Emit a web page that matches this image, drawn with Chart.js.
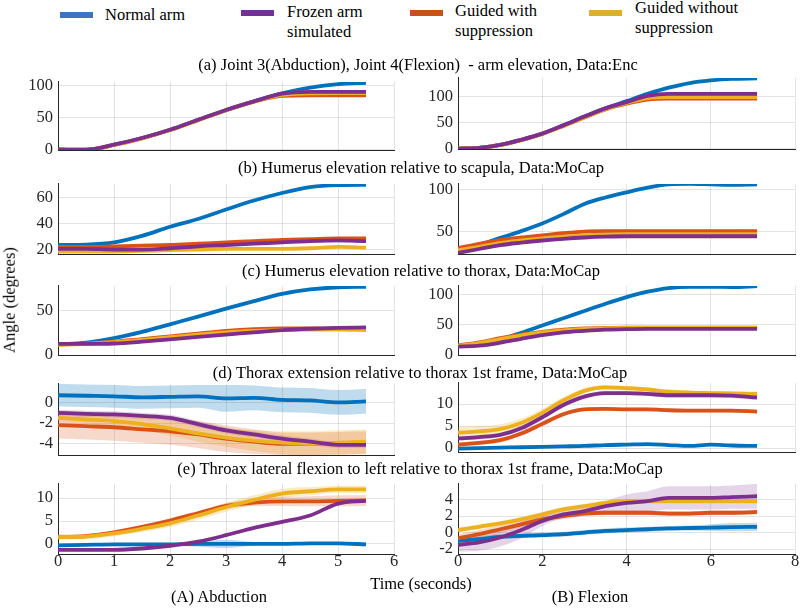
<!DOCTYPE html>
<html><head><meta charset="utf-8">
<script src="https://cdn.jsdelivr.net/npm/chart.js@4"></script>
<style>
body{margin:0;width:800px;height:608px;background:#fff;position:relative;overflow:hidden;font-family:'Liberation Serif','Times New Roman',serif;color:#000}
.c{position:absolute;white-space:nowrap;font-size:16.5px;transform:translate(-50%,-50%);line-height:1}
.l{position:absolute;white-space:nowrap;font-size:16.5px;line-height:1;transform:translateY(-50%)}
.sw{position:absolute;width:33px;height:6px}
.box{position:absolute}
</style></head><body>
<script>
// ---------- data ----------
const timeAbd  = [0,0.5,1,1.5,2,2.5,3,3.5,4,4.5,5,5.5];
const timeFlex = [0,0.5,1,1.5,2,2.5,3,3.5,4,4.5,5,5.5,6,6.5,7.1];
const xTicksAbd = [0,1,2,3,4,5,6];
const xTicksFlex = [0,2,4,6,8];
const seriesNames = ['Normal arm','Frozen arm simulated','Guided with suppression','Guided without suppression'];

// (a) Joint 3 / Joint 4 arm elevation
const aAbdNormal = [0,-0.3,7.5,18,31,46.5,62,75.5,88,97,102.5,104.5];
const aAbdFrozen = [0,-0.3,7.5,18,31,46.5,62,75.5,87.5,90.5,90.5,90.5];
const aAbdGuidedS = [-1.2,-0.8,7,17.5,30.5,46,61.5,75,84,85,85,85];
const aAbdGuidedN = [-1.2,-0.8,7,17.5,30.5,46,61.5,75,85.5,88,88.5,88.5];
const aAbdNormalSd = [0.5,0.5,0.5,0.5,0.6,0.7,0.8,1,1,1,1,1];
const aAbdFrozenSd = [0.5,0.5,0.5,0.5,0.5,0.6,0.7,0.8,1,1,1,1];
const aAbdGuidedSSd = [0.5,0.5,0.6,0.7,0.8,0.9,1,1.2,1.5,2,2,2];
const aAbdGuidedNSd = [0.5,0.5,0.6,0.7,0.8,1,1.2,1.5,3,4.5,5,5];

const aFlxNormal = [0,1.5,7,17,29,45,62,78,92,106,118,127,132,135,136];
const aFlxFrozen = [0,1.5,7,17,29,45,62,78,90,102,106,106,106,106,106];
const aFlxGuidedS = [0,1.5,7,16.5,28.5,44,60.5,76,87,95,97,97,97,97,97];
const aFlxGuidedN = [0,1.5,7,16.5,28.5,44,61,76.5,88.5,98,100,100,100,100,100];
const aFlxNormalSd = [0.5,0.5,0.5,0.6,0.7,0.8,0.9,1,1,1,1,1,1,1,1];
const aFlxFrozenSd = [0.5,0.5,0.5,0.6,0.7,0.8,1,1.5,2.5,3.5,4,4,4,4,4];
const aFlxGuidedSSd = [0.5,0.5,0.5,0.6,0.7,0.8,1,1.2,1.5,2,2,2,2,2,2];
const aFlxGuidedNSd = [0.5,0.5,0.5,0.6,0.7,0.8,1,1.2,1.5,2,2,2,2,2,2];

// (b) Humerus elevation relative to scapula
const bAbdNormal = [23.5,23.8,25.5,30.5,37.5,43.5,50.8,57.7,63.5,68,69.5,69.7];
const bAbdFrozen = [20.5,20.5,20,20,21,22.5,23.5,24.5,25.5,26.5,27,26.5];
const bAbdGuidedS = [22,22,22.5,23,23.5,24.5,25.5,26.5,27.5,28,28.5,28.5];
const bAbdGuidedN = [18.5,18.5,18.5,19,19.5,20,20.5,20.5,20.5,21,22,21.5];
const bAbdNormalSd = [0.7,0.7,0.7,0.8,0.8,0.9,1,1.1,1.2,1,0.8,0.8];
const bAbdFrozenSd = [0.7,0.7,0.7,0.7,0.8,0.8,0.9,1,1.1,1.3,1.5,1.5];
const bAbdGuidedSSd = [0.7,0.7,0.7,0.7,0.7,0.8,0.8,0.8,0.9,0.9,1,1];
const bAbdGuidedNSd = [0.7,0.7,0.7,0.7,0.7,0.8,0.8,0.8,0.9,0.9,1,1];

const bFlxNormal = [27.5,35,43,51,60,71,83,90.5,96.5,102,106,106.5,106,105.5,106];
const bFlxFrozen = [25.5,30,34.5,37.5,40,42,43.5,44.5,45,45,45,45,45,45,45];
const bFlxGuidedS = [31,36,40.5,43.5,46,48.5,50.5,51,51,51,51,51,51,51,51];
const bFlxGuidedN = [28.5,32.5,37,40,42.5,44.5,46,47,47.5,47.5,47.5,47.5,47.5,47.5,47.5];
const bFlxNormalSd = [0.8,0.8,0.8,0.9,1,1,1,1,1,1,1,1,1,1,1];
const bFlxFrozenSd = [0.8,0.8,0.8,0.8,0.8,0.8,0.8,0.8,0.8,0.8,0.8,0.8,0.8,0.8,0.8];
const bFlxGuidedSSd = [1,1.2,1.4,1.6,1.8,2,2,2,2,2,2,2,2,2,2.2];
const bFlxGuidedNSd = [0.8,0.8,0.8,0.8,0.8,0.8,0.8,0.8,0.8,0.8,0.8,0.8,0.8,0.8,0.8];

// (c) Humerus elevation relative to thorax
const cAbdNormal = [12,14,19,26,34.5,43,52,60.5,68.5,73.5,76,76.5];
const cAbdFrozen = [12.5,12.5,13,15,17.5,20.5,23,25.5,28,29.5,30.5,31];
const cAbdGuidedS = [12,13,15,18,21,24,27,29,30,30,29.5,29];
const cAbdGuidedN = [11.5,12.5,14.5,17,20,23,25.5,27,28,28.5,28.5,28];
const cAbdNormalSd = [0.8,0.8,0.8,0.8,0.9,1,1,1,1,1,1,1];
const cAbdFrozenSd = [0.8,0.8,0.8,0.8,0.8,0.9,0.9,1,1,1,1,1];
const cAbdGuidedSSd = [0.8,0.8,0.8,0.8,0.8,0.9,0.9,1,1,1,1,1];
const cAbdGuidedNSd = [0.8,0.8,0.8,0.8,0.8,0.9,0.9,1,1,1,1,1];

const cFlxNormal = [15,19,26,37,49,61,73,85,96,105,111,113,113,112.5,114];
const cFlxFrozen = [14,15.5,20.5,27,33,37.5,40,42,43,43.5,43.5,43.5,43.5,43.5,43.5];
const cFlxGuidedS = [16,21,28,34,38.5,42,44,45,45.5,45.5,45.5,45.5,45.5,45.5,45.5];
const cFlxGuidedN = [15.5,20,26.5,32.5,37.5,41,43.5,44.5,45,45,45,45,45,45,45];
const cFlxNormalSd = [1,1,1,1.2,1.2,1.2,1.2,1.2,1.2,1.2,1.2,1.2,1.2,1.2,1.2];
const cFlxFrozenSd = [1,1,1,1.2,1.2,1.2,1.2,1.2,1.2,1.2,1.2,1.2,1.2,1.2,1.2];
const cFlxGuidedSSd = [1,1,1,1.2,1.2,1.2,1.2,1.2,1.2,1.2,1.2,1.2,1.2,1.2,1.2];
const cFlxGuidedNSd = [1,1,1,1.2,1.2,1.2,1.2,1.2,1.2,1.2,1.2,1.2,1.2,1.2,1.2];

// (d) Thorax extension relative to thorax 1st frame
const dAbdNormal = [0.7,0.65,0.6,0.5,0.55,0.6,0.4,0.45,0.25,0.2,0.0,0.1];
const dAbdFrozen = [-1.0,-1.1,-1.15,-1.3,-1.5,-2.1,-2.7,-3.1,-3.5,-3.8,-4.1,-4.1];
const dAbdGuidedS = [-2.2,-2.3,-2.4,-2.6,-2.8,-3.1,-3.5,-3.8,-4.0,-4.0,-3.95,-3.9];
const dAbdGuidedN = [-1.5,-1.65,-1.8,-2.1,-2.5,-3.0,-3.4,-3.7,-3.9,-4.0,-3.9,-3.8];
const dAbdNormalSd = [1.1,1.1,1.1,1.1,1.1,1.1,1.3,1.2,1.2,1.2,1.2,1.2];
const dAbdFrozenSd = [0.3,0.3,0.3,0.3,0.3,0.3,0.3,0.3,0.3,0.3,0.3,0.3];
const dAbdGuidedSSd = [1.3,1.3,1.3,1.3,1.3,1.3,1.3,1.2,1.1,1.1,1.1,1.1];
const dAbdGuidedNSd = [0.4,0.4,0.5,0.6,0.7,0.8,0.9,1.0,1.1,1.2,1.2,1.2];

const dFlxNormal = [-0.1,0.0,0.1,0.2,0.3,0.4,0.5,0.7,0.8,0.9,0.7,0.5,0.8,0.6,0.5];
const dFlxFrozen = [2.2,2.5,3.0,4.5,7.0,9.8,11.7,12.5,12.5,12.3,12.0,12.0,12.0,11.9,11.5];
const dFlxGuidedS = [0.8,1.2,1.8,3.3,5.5,7.7,8.8,8.9,8.8,8.8,8.6,8.5,8.5,8.5,8.3];
const dFlxGuidedN = [3.5,3.8,4.3,5.7,8.0,10.8,13.0,13.8,13.6,13.3,12.8,12.6,12.5,12.4,12.3];
const dFlxNormalSd = [0.2,0.2,0.2,0.2,0.2,0.2,0.2,0.2,0.2,0.2,0.2,0.2,0.2,0.2,0.2];
const dFlxFrozenSd = [0.5,0.5,0.5,0.5,0.5,0.5,0.5,0.5,0.5,0.5,0.5,0.5,0.5,0.5,0.6];
const dFlxGuidedSSd = [0.5,0.5,0.5,0.6,0.6,0.5,0.4,0.4,0.4,0.4,0.4,0.4,0.4,0.4,0.4];
const dFlxGuidedNSd = [1.3,1.2,1.1,1.0,0.9,0.8,0.6,0.5,0.5,0.5,0.5,0.5,0.5,0.5,0.6];

// (e) Thorax lateral flexion to left relative to thorax 1st frame
const eAbdNormal = [-0.3,-0.2,-0.1,-0.1,-0.1,0,0,0,0,0.1,0.1,-0.1];
const eAbdFrozen = [-1.3,-1.3,-1.3,-1.0,-0.4,0.5,1.9,3.5,4.8,6.2,8.8,9.4];
const eAbdGuidedS = [1.5,1.7,2.5,3.7,5.1,6.7,8.3,9.0,9.3,9.3,9.4,9.5];
const eAbdGuidedN = [1.5,1.6,2.3,3.3,4.5,6.2,8.0,9.6,11.0,11.5,11.9,11.9];
const eAbdNormalSd = [0.2,0.2,0.2,0.2,0.3,0.6,0.9,0.4,0.2,0.2,0.2,0.2];
const eAbdFrozenSd = [0.3,0.3,0.3,0.3,0.3,0.3,0.3,0.3,0.3,0.3,0.3,0.3];
const eAbdGuidedSSd = [0.4,0.4,0.4,0.4,0.5,0.5,0.6,0.8,1.0,1.1,1.2,1.2];
const eAbdGuidedNSd = [0.6,0.6,0.6,0.7,0.8,0.9,1.0,1.0,1.0,0.9,0.8,0.8];

const eFlxNormal = [-1.0,-0.8,-0.5,-0.4,-0.3,-0.2,0.0,0.2,0.3,0.4,0.5,0.55,0.6,0.65,0.7];
const eFlxFrozen = [-1.5,-1.2,-0.6,0.3,1.4,2.2,2.6,3.2,3.6,3.8,4.2,4.2,4.2,4.3,4.4];
const eFlxGuidedS = [-0.7,-0.2,0.4,1.0,1.6,2.0,2.3,2.4,2.4,2.4,2.3,2.3,2.4,2.4,2.5];
const eFlxGuidedN = [0.3,0.7,1.1,1.6,2.2,2.8,3.2,3.6,3.8,3.8,3.8,3.8,3.8,3.8,3.8];
const eFlxNormalSd = [0.3,0.3,0.3,0.3,0.3,0.3,0.3,0.3,0.3,0.3,0.3,0.3,0.4,0.5,0.5];
const eFlxFrozenSd = [0.8,1.0,1.1,1.0,0.6,0.4,0.4,0.6,1.0,1.2,1.4,1.4,1.4,1.4,1.5];
const eFlxGuidedSSd = [0.5,0.5,0.5,0.4,0.4,0.4,0.3,0.3,0.3,0.3,0.3,0.3,0.3,0.3,0.3];
const eFlxGuidedNSd = [0.3,0.3,0.3,0.3,0.3,0.3,0.3,0.3,0.3,0.3,0.3,0.3,0.3,0.3,0.3];

const yTicksA_L = [0,50,100], yTicksA_R = [0,50,100];
const yTicksB_L = [20,40,60], yTicksB_R = [50,100];
const yTicksC_L = [0,50], yTicksC_R = [0,50,100];
const yTicksD_L = [-4,-2,0], yTicksD_R = [0,5,10];
const yTicksE_L = [0,5,10], yTicksE_R = [-2,0,2,4];

// ---------- styling ----------
const COLORS = {normal:[0,114,189], frozen:[126,47,142], guidedS:[217,83,25], guidedN:[237,177,32]};
const LEG = ['#3f72c0','#71309a','#c4531b','#e0ae2e'];
const FONT = "'Liberation Serif', 'Times New Roman', serif";
Chart.defaults.font.family = FONT;
const Y_W = 55, PAD_T = 14, PAD_R = 5;

function rgba(c,a){return 'rgba('+c[0]+','+c[1]+','+c[2]+','+a+')';}

function addText(txt, x, y, cls, extra){
  const d=document.createElement('div'); d.className=cls; d.textContent=txt;
  d.style.left=x+'px'; d.style.top=y+'px'; if(extra) Object.assign(d.style,extra);
  document.body.appendChild(d); return d;
}

function makePlot(rect, times, S, yMin, yMax, yTicks, xMax, xTicks, showX){
  const xh = showX ? 26 : 14;
  const W = rect.r - rect.l + Y_W + PAD_R, H = rect.b - rect.t + PAD_T + xh;
  const box=document.createElement('div'); box.className='box';
  box.style.left=(rect.l-Y_W)+'px'; box.style.top=(rect.t-PAD_T)+'px';
  box.style.width=W+'px'; box.style.height=H+'px';
  const cv=document.createElement('canvas'); cv.width=W; cv.height=H;
  cv.style.width=W+'px'; cv.style.height=H+'px';
  box.appendChild(cv); document.body.appendChild(box);
  const pts = v => times.map((t,i)=>({x:t,y:v[i]}));
  const datasets=[];
  S.forEach(s=>{
    datasets.push({data:times.map((t,i)=>({x:t,y:s.v[i]+s.sd[i]})), fill:'+1', backgroundColor:rgba(s.c,s.a),
      borderWidth:0, pointRadius:0, order:20, cubicInterpolationMode:'monotone'});
    datasets.push({data:times.map((t,i)=>({x:t,y:s.v[i]-s.sd[i]})), fill:false, borderWidth:0, pointRadius:0, order:20,
      cubicInterpolationMode:'monotone'});
  });
  S.forEach(s=>{
    datasets.push({data:pts(s.v), borderColor:rgba(s.c,1), borderWidth:3.8, pointRadius:0, fill:false,
      order:s.o, cubicInterpolationMode:'monotone', borderCapStyle:'butt', borderJoinStyle:'round'});
  });
  new Chart(cv,{type:'line',data:{datasets},
    options:{responsive:false, animation:false, devicePixelRatio:1, events:[],
      layout:{padding:{left:0,top:PAD_T,right:PAD_R,bottom:0}},
      plugins:{legend:{display:false},tooltip:{enabled:false}},
      scales:{
        x:{type:'linear',min:0,max:xMax,
          afterBuildTicks:sc=>{sc.ticks=xTicks.map(v=>({value:v}));},
          afterFit:sc=>{sc.height=xh;},
          grid:{color:'rgba(38,38,38,0.13)',drawTicks:false,lineWidth:1},
          border:{display:true,color:'#262626',width:1},
          ticks:{display:showX,padding:-2,color:'#262626',font:{family:FONT,size:16.5},callback:v=>String(v),maxRotation:0}},
        y:{type:'linear',min:yMin,max:yMax,
          afterBuildTicks:sc=>{sc.ticks=yTicks.map(v=>({value:v}));},
          afterFit:sc=>{sc.width=Y_W;},
          grid:{color:'rgba(38,38,38,0.13)',drawTicks:false,lineWidth:1},
          border:{display:true,color:'#262626',width:1},
          ticks:{padding:5,color:'#262626',font:{family:FONT,size:16.5},callback:v=>String(v)}}
      }}});
}

function S4(n,f,gs,gn,nsd,fsd,gssd,gnsd){
  return [
    {v:n,sd:nsd,c:COLORS.normal,o:3,a:0.25},
    {v:gs,sd:gssd,c:COLORS.guidedS,o:2,a:0.22},
    {v:gn,sd:gnsd,c:COLORS.guidedN,o:1,a:0.25},
    {v:f,sd:fsd,c:COLORS.frozen,o:0,a:0.2}
  ];
}

const L={l:58,r:394}, R={l:458,r:795};
makePlot({...L,t:81,b:151}, timeAbd, S4(aAbdNormal,aAbdFrozen,aAbdGuidedS,aAbdGuidedN,aAbdNormalSd,aAbdFrozenSd,aAbdGuidedSSd,aAbdGuidedNSd), -1,106, yTicksA_L, 6, xTicksAbd, false);
makePlot({...R,t:77,b:150}, timeFlex, S4(aFlxNormal,aFlxFrozen,aFlxGuidedS,aFlxGuidedN,aFlxNormalSd,aFlxFrozenSd,aFlxGuidedSSd,aFlxGuidedNSd), -1,137, yTicksA_R, 8, xTicksFlex, false);
makePlot({...L,t:183,b:255}, timeAbd, S4(bAbdNormal,bAbdFrozen,bAbdGuidedS,bAbdGuidedN,bAbdNormalSd,bAbdFrozenSd,bAbdGuidedSSd,bAbdGuidedNSd), 16.5,70.5, yTicksB_L, 6, xTicksAbd, false);
makePlot({...R,t:183,b:255}, timeFlex, S4(bFlxNormal,bFlxFrozen,bFlxGuidedS,bFlxGuidedN,bFlxNormalSd,bFlxFrozenSd,bFlxGuidedSSd,bFlxGuidedNSd), 24,106.5, yTicksB_R, 8, xTicksFlex, false);
makePlot({...L,t:285,b:356}, timeAbd, S4(cAbdNormal,cAbdFrozen,cAbdGuidedS,cAbdGuidedN,cAbdNormalSd,cAbdFrozenSd,cAbdGuidedSSd,cAbdGuidedNSd), 0,77.5, yTicksC_L, 6, xTicksAbd, false);
makePlot({...R,t:285,b:356}, timeFlex, S4(cFlxNormal,cFlxFrozen,cFlxGuidedS,cFlxGuidedN,cFlxNormalSd,cFlxFrozenSd,cFlxGuidedSSd,cFlxGuidedNSd), 0,114.5, yTicksC_R, 8, xTicksFlex, false);
makePlot({...L,t:383,b:456}, timeAbd, S4(dAbdNormal,dAbdFrozen,dAbdGuidedS,dAbdGuidedN,dAbdNormalSd,dAbdFrozenSd,dAbdGuidedSSd,dAbdGuidedNSd), -5.1,1.8, yTicksD_L, 6, xTicksAbd, false);
makePlot({...R,t:382,b:453}, timeFlex, S4(dFlxNormal,dFlxFrozen,dFlxGuidedS,dFlxGuidedN,dFlxNormalSd,dFlxFrozenSd,dFlxGuidedSSd,dFlxGuidedNSd), -0.9,14.8, yTicksD_R, 8, xTicksFlex, false);
makePlot({...L,t:483,b:554}, timeAbd, S4(eAbdNormal,eAbdFrozen,eAbdGuidedS,eAbdGuidedN,eAbdNormalSd,eAbdFrozenSd,eAbdGuidedSSd,eAbdGuidedNSd), -2.2,13.1, yTicksE_L, 6, xTicksAbd, true);
makePlot({...R,t:483,b:554}, timeFlex, S4(eFlxNormal,eFlxFrozen,eFlxGuidedS,eFlxGuidedN,eFlxNormalSd,eFlxFrozenSd,eFlxGuidedSSd,eFlxGuidedNSd), -2.6,5.9, yTicksE_R, 8, xTicksFlex, true);

// ---------- legend ----------
const legPos=[{sx:60,sy:12,tx:105,ty:[15]},{sx:241,sy:10,tx:287,ty:[12,32]},{sx:410,sy:10,tx:455,ty:[11,31]},{sx:589,sy:10,tx:635,ty:[8,28]}];
const legLines=[['Normal arm'],['Frozen arm','simulated'],['Guided with','suppression'],['Guided without','suppression']];
legPos.forEach((p,i)=>{
  const sw=document.createElement('div'); sw.className='sw'; sw.style.left=p.sx+'px'; sw.style.top=p.sy+'px'; sw.style.background=LEG[i];
  document.body.appendChild(sw);
  legLines[i].forEach((t,k)=>addText(t,p.tx,p.ty[k],'l'));
});

// ---------- titles ----------
addText('(a) Joint 3(Abduction), Joint 4(Flexion)  - arm elevation, Data:Enc',418,65,'c',{whiteSpace:'pre'});
addText('(b) Humerus elevation relative to scapula, Data:MoCap',421,168,'c');
addText('(c) Humerus elevation relative to thorax, Data:MoCap',421,271,'c');
addText('(d) Thorax extension relative to thorax 1st frame, Data:MoCap',420,373,'c');
addText('(e) Throax lateral flexion to left relative to thorax 1st frame, Data:MoCap',420,469,'c');
addText('Angle (degrees)',10,300,'c',{transform:'translate(-50%,-50%) rotate(-90deg)'});
addText('Time (seconds)',421,584,'c');
addText('(A) Abduction',219,597,'c');
addText('(B) Flexion',590,597,'c');
</script>
</body></html>
